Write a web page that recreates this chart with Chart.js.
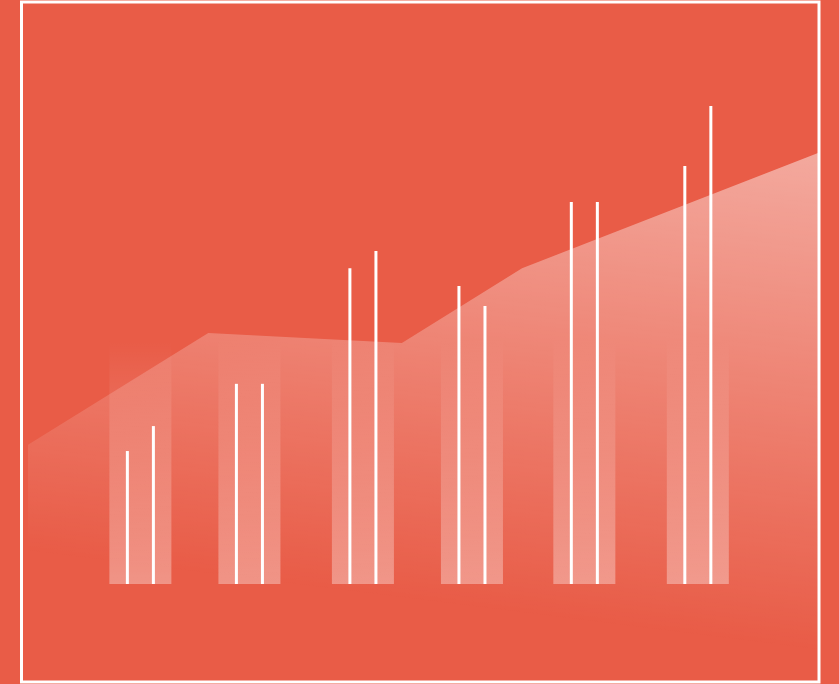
<!DOCTYPE html>
<html>
<head>
<meta charset="utf-8">
<script src="https://cdn.jsdelivr.net/npm/chart.js@4"></script>
<style>
  html, body { margin: 0; padding: 0; background: rgb(233, 92, 71); }
  #wrap { position: relative; width: 839px; height: 684px; }
</style>
</head>
<body>
<div id="wrap"><canvas id="barChart"></canvas></div>
<script>
// group positions on the x axis and the two thin series
const groups = [1.01, 1.99, 3.01, 3.99, 5.0, 6.02]
const seriesA = [27.7, 41.7, 65.8, 62.1, 79.6, 87.1]
const seriesB = [32.9, 41.7, 69.4, 57.9, 79.6, 99.6]
// wide faded column behind each group
const backdrop = [51, 51, 51, 51, 51, 51]
// the rising area behind everything
const areaX = [0, 1.62, 3.36, 4.44, 7.1]
const areaY = [29, 52.3, 50.2, 65.8, 89.8]

function pts(xs, ys) {
    return xs.map((x, i) => ({x: x, y: ys[i]}))
}

//white fade for the area, a little stronger on the right
function areaFill(ctx) {
    const chart = ctx.chart
    const area = chart.chartArea
    if (!area) return 'rgba(255,255,255,0.2)'
    const y = chart.scales.y
    const top = y.getPixelForValue(89)
    const g = chart.ctx.createLinearGradient(area.right, top, area.right - 61, top + 487)
    g.addColorStop(0, 'rgba(255,255,255,0.47)')
    g.addColorStop(1, 'rgba(255,255,255,0)')
    return g
}

//columns get lighter towards the base
function columnFill(ctx) {
    const chart = ctx.chart
    if (!chart.chartArea) return 'rgba(255,255,255,0.2)'
    const y = chart.scales.y
    const g = chart.ctx.createLinearGradient(0, y.getPixelForValue(backdrop[0]), 0, y.getPixelForValue(0))
    g.addColorStop(0, 'rgba(255,255,255,0)')
    g.addColorStop(1, 'rgba(255,255,255,0.35)')
    return g
}

//white frame round the picture
const framePlugin = {
    id: 'frame',
    afterDatasetsDraw(chart) {
        const c = chart.ctx
        c.save()
        c.strokeStyle = '#ffffff'
        c.lineWidth = 3
        c.strokeRect(21.5, 2, 797.5, 680)
        c.restore()
    }
}

new Chart("barChart", {
    type: 'bar',
    data: {
        datasets: [{
            label: 'backdrop',
            data: pts(groups, backdrop),
            backgroundColor: columnFill,
            grouped: false,
            categoryPercentage: 1,
            barPercentage: 0.785,
            order: 3
        }, {
            type: 'line',
            label: 'area',
            data: pts(areaX, areaY),
            backgroundColor: areaFill,
            borderWidth: 0,
            pointRadius: 0,
            fill: 'start',
            tension: 0,
            order: 2
        }, {
            label: 'A',
            data: pts(groups, seriesA),
            backgroundColor: '#ffffff',
            categoryPercentage: 0.659,
            barPercentage: 1,
            maxBarThickness: 3,
            order: 1
        }, {
            label: 'B',
            data: pts(groups, seriesB),
            backgroundColor: '#ffffff',
            categoryPercentage: 0.659,
            barPercentage: 1,
            maxBarThickness: 3,
            order: 1
        }]
    },
    options: {
        responsive: true,
        maintainAspectRatio: false,
        animation: false,
        layout: {padding: {left: 28, right: 21, top: 104, bottom: 4}},
        scales: {
            x: {type: 'linear', min: 0, max: 7.1, offset: false, display: false, ticks: {stepSize: 0.71}},
            y: {min: -20, max: 100, display: false}
        },
        plugins: {
            legend: {display: false},
            tooltip: {enabled: false}
        }
    },
    plugins: [framePlugin]
})
</script>
</body>
</html>
